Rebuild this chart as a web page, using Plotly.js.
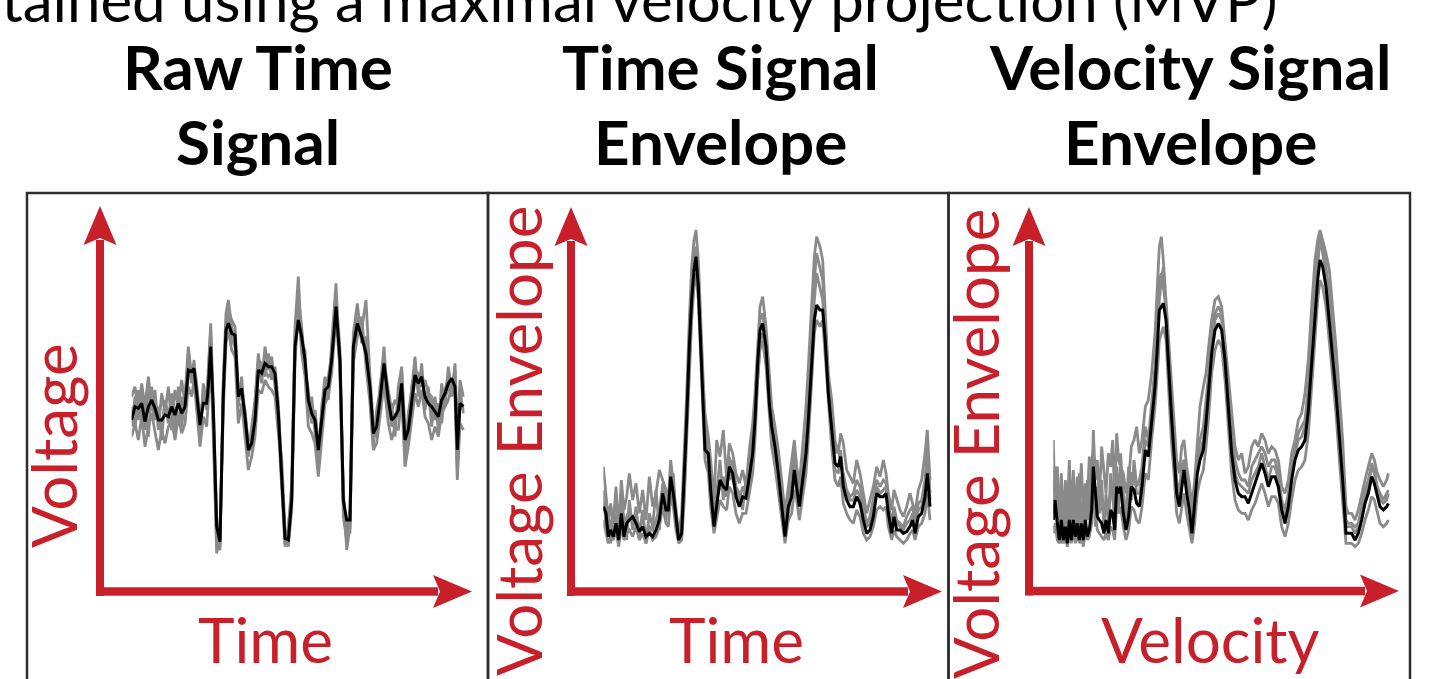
<!DOCTYPE html>
<html>
<head>
<meta charset="utf-8">
<script src="https://cdn.plot.ly/plotly-3.0.1.min.js"></script>
<style>html,body{margin:0;padding:0;background:#fff;overflow:hidden}#chart{width:1430px;height:679px}</style>
</head>
<body>
<div id="chart"></div>
<script>
// ---------------- DATA ----------------
const panelTitles = [["Raw Time", "Signal"], ["Time Signal", "Envelope"], ["Velocity Signal", "Envelope"]];
const xLabels = ["Time", "Time", "Velocity"];
const yLabels = ["Voltage", "Voltage Envelope", "Voltage Envelope"];
const caption = "obtained using a maximal velocity projection (MVP)";

// Panel 1: raw time signal
const t1 = [0,1,2,3,4,5,6,7,8,9,10,11,12,13,14,15,16,17,18,18.7,19.5,20.5,21.5,22.5,23,23.7,24.5,25.5,26.5,27.5,28.3,29,30,31,32,33,34,35,36,37,38,39,40,41,42,43,44,45,46,47,48,49,50,51,52,53,54,55,56,57,58,59,60,61.3,62.5,63.5,64.5,65.5,66.5,67.7,69,70.3,71.5,72.5,73.5,74.5,75.7,77,78,79,80,81,82,83,84,85,86,87,88,89,90,91,92,93,94,95,96,97,97.7,98.5,99.5];
const raw_mean = [-1,3,2.5,4,-1.5,3,5,2.5,-1,-1,0.5,0,3,0.5,4,1,3,14,13.5,14.5,7,-2.5,4,4,9,21,2,-33,-37.5,7,26,28,25,24.5,6,8.5,0,-10,-8,-1,14,13,16,15,15,13,1,-17,-36.5,-37,-25,21,29,24,17,5,1,-1,-10,-1,8,9,17,33,17,-25,-31,-31,21,28,24,19,9,-5,-3,5,16,5,-1,0,2,10,-7,-4,5,12.5,10,12,6,4,3,1.5,0,5,7,10,11.5,9,-10,4,3];
const raw_trial1 = [6,9,1,10,3,12,2,8,-4,7,1,9,-2,8,3,11,4,19,10,17,3,-6,10,2,15,26,-3,-38,-40,12,31,35,27,22,3,12,-4,-12,-3,5,19,10,21,14,18,9,-3,-22,-39,-34,-20,27,42,22,20,1,6,-5,-14,3,12,5,22,40,12,-30,-37,-28,25,34,22,24,5,-9,2,8,21,1,4,-6,9,15,-12,1,8,18,6,16,2,9,-3,6,-4,10,3,15,8,14,-18,8,1];
const raw_trial2 = [-6,-2,-7,0,-9,-3,1,-5,-10,-4,-8,-3,-1,-7,0,-5,-2,9,6,11,2,-9,0,-3,5,17,-6,-41,-36,2,22,26,20,18,-2,4,-6,-16,-12,-6,8,7,11,9,8,6,-5,-12,-34,-39,-28,16,34,19,12,-3,-5,-8,-18,-6,4,6,13,30,14,-22,-40,-33,16,24,30,15,4,-10,-8,0,10,-2,-7,-3,-4,6,-15,-9,-1,7,3,8,0,-2,-7,-3,-6,1,3,5,9,6,-19,-2,-4];
const raw_trial3 = [3,-4,8,-2,4,-6,9,-1,3,-7,5,-2,7,-5,9,-3,6,21,12,16,10,-1,6,8,12,28,4,-30,-39,10,28,32,29,27,8,6,2,-8,-6,3,17,16,12,19,11,15,4,-15,-38,-33,-23,24,36,27,15,8,-2,2,-8,-4,10,12,19,37,20,-24,-34,-35,18,30,26,35,12,-2,-6,9,17,8,2,5,3,14,-3,-8,9,14,13,9,11,7,6,-1,4,-2,8,12,6,16,-6,11,6];
const raw_trial4 = [-3,6,-1,7,-4,8,3,0,2,-3,4,2,-4,3,-2,6,1,12,15,9,5,-4,8,3,7,22,-1,-35,-34,5,25,30,23,21,4,10,1,-9,-10,0,12,15,14,12,13,11,2,-19,-35,-38,-26,19,30,25,14,3,-1,1,-12,0,6,8,15,35,16,-26,-33,-30,22,26,25,20,8,-7,-1,3,14,4,-3,1,0,9,-9,-5,3,11,9,13,4,5,1,2,-1,3,6,8,10,11,-15,5,2];

// Panel 2: time signal envelope
const t2 = [0,0.8,1.5,2.2,3,3.8,4.6,5.4,6.2,7,7.8,8.8,9.8,10.8,11.8,12.8,13.8,14.8,15.8,16.8,17.8,18.8,19.5,20.2,21,21.8,22.6,23.5,24.3,25,25.8,26.5,27.2,27.8,28.5,29.3,30,30.5,31.5,32.2,33.2,34,35,36,37,37.8,38.8,39.8,40.8,41.8,42.8,43.8,44.8,45.5,46.3,47,47.8,48.8,49.8,50.5,51.5,52.5,53.5,54.5,55.5,56.5,57.3,58,58.8,59.8,60.8,61.5,62.5,63.3,64,65,65.8,66.5,67.5,68.5,69.5,70.5,71.2,72,73,74,75,76,77,78,79,80,81,82,83,84,84.8,85.5,86.5,87.2,88,89,90,91,92,92.8,93.5,94.5,95.5,96.5,97.2,98];
const env_mean = [10,8,1,3,1,5,0,8,1,5,6,7,5,2.5,4,1,2,1,3,6,14,9,9,19,14,6,0,2,18,36,58,72,81,85,76,56,40,27,26,15,4,10,18,16,15,22,20,13,10,13,12.5,19,26,36,53,63,65,58,41,34,28,20,11,1,10,13,21,16,10,18,26,36,54,66,70.5,69,69,61,44,34,23,22,25,16,12,10,10,13,11,6,2,3,7,14,13,13,14,8,2,7,3,3,2,2.5,4,6,2,7,8,13,20,10];
const env_trial1 = [22,14,6,11,4,16,3,18,9,13,20,12,17,8,15,6,19,10,14,21,18,15,12,24,17,9,2,8,26,44,66,82,90,93,84,62,47,38,31,24,12,30,25,33,18,29,26,20,17,21,16,27,35,44,60,70,73,64,50,40,34,27,18,8,16,24,30,22,17,28,40,52,72,85,91,88,84,70,50,42,30,26,32,29,21,19,17,24,20,14,8,12,16,22,19,24,20,14,9,15,12,9,7,10,14,11,8,15,18,26,33,18];
const env_trial2 = [6,2,-1,1,0,3,-2,4,0,2,3,1,4,0,2,-1,3,0,1,4,10,5,4,13,10,3,-1,0,12,30,52,66,76,80,72,52,36,24,20,10,2,6,12,10,9,16,14,8,5,8,8,14,20,30,48,57,60,52,36,28,22,14,6,-1,6,8,15,12,6,13,20,30,50,62,66,64,66,56,40,28,18,16,19,11,8,6,5,9,7,2,0,1,4,9,10,9,10,4,0,3,1,0,-1,0,2,3,0,4,5,8,14,6];
const env_trial3 = [15,4,10,-1,8,12,2,14,6,0,12,3,10,1,9,-1,8,4,15,3,17,6,14,12,20,4,1,5,15,38,62,78,88,82,80,60,44,34,28,20,8,14,24,12,20,18,24,16,14,9,18,22,30,40,56,66,68,60,44,37,31,24,14,4,13,18,26,19,14,22,30,40,62,78,86,82,78,66,48,36,26,28,22,20,15,13,14,18,16,10,5,7,12,18,16,18,17,11,5,10,6,5,4,7,9,10,5,11,12,18,28,14];
const env_trial4 = [9,11,3,6,2,8,1,10,3,7,9,5,7,4,6,2,4,3,6,9,16,11,10,16,15,8,0,4,16,34,56,70,84,88,74,54,42,30,24,17,6,12,16,19,13,25,18,15,12,16,14,17,24,34,50,60,62,56,40,32,26,18,9,3,8,15,19,14,12,16,24,34,58,72,80,76,72,62,46,32,21,20,27,18,14,12,12,15,13,8,4,5,9,16,14,15,16,10,4,8,5,4,3,5,6,8,4,9,10,16,24,12];

// Panel 3: velocity signal envelope
const v3 = [0,0.5,1.2,1.8,2.4,3,3.6,4.2,4.8,5.4,6,6.6,7.2,7.8,8.4,9,9.6,10.2,10.8,11.5,12,12.6,13.2,13.8,14.5,15.2,15.8,16.5,17.2,17.8,18.4,19,19.6,20.2,21,21.8,22.6,23.4,24.2,25,25.8,26.6,27.6,28.5,29.5,30.5,31.2,31.8,32.4,33,33.8,34.6,35.4,36.2,37,37.8,38.5,39.2,40,40.8,41.6,42.4,43.2,44,45,45.8,46.6,47.5,48.5,49.5,50.5,51.5,52.5,53.5,54.5,55.5,56.5,57.5,58.5,59.5,60.5,61.5,62.5,63.5,64.5,65.5,66.5,67.5,68.5,69.5,70.5,71.5,72.5,73.5,74.5,75.5,76.5,77.5,78.5,79.3,80,80.8,81.8,82.8,83.8,84.8,85.8,86.8,87.8,88.5,89.5,90.5,91.5,92.5,93.5,94.5,95.5,96.3,97.2,98,99,100,100.5];
const vel_mean = [6,12,5,0,6,0,4,-1,6,0,6,1,5,0,5,0,6,1,3,9,22,14,7,6,5,2,6,2,9,8,3,16,14,16,8,3,7,16,15,11,10,16,27,25,36,46,58,69,70,71,66,51,38,26,14,10,16,21,14,9,2,10,20,24,27,35,44,56,63,65,63,54,40,26,18,14,13,13,11,14,17,20,23,20,16,19,19,16,9,5,10,18,24,27,28,30,39,53,66,78,84,82,76,66,54,44,31,18,2,2,2,0,2,6,11,14,19,17,13,10,9,10,11];
const vel_trial1 = [30,8,22,5,20,4,18,9,24,6,21,7,19,10,23,8,17,12,25,11,33,18,24,12,28,20,14,26,22,30,12,32,24,22,20,14,18,28,30,34,26,30,40,42,50,62,78,88,91,84,72,60,46,34,24,20,28,30,22,17,10,18,28,40,46,50,58,66,72,73,70,60,50,38,28,24,26,20,22,28,30,28,32,30,26,28,27,24,16,14,18,26,30,36,38,44,54,70,84,90,93,90,86,81,70,58,44,30,10,8,8,6,9,14,18,22,26,24,20,18,16,18,20];
const vel_trial2 = [2,5,0,-1,3,-1,1,-2,2,-1,3,-1,2,-1,2,-2,3,0,1,5,14,8,3,2,1,0,2,0,4,3,0,10,8,10,4,0,3,10,9,6,5,10,20,18,30,40,50,60,62,64,60,44,30,20,8,5,10,14,8,4,-1,5,14,18,21,28,37,50,57,60,58,48,34,20,12,9,8,8,6,9,11,14,17,14,10,13,13,11,4,1,5,12,18,21,22,24,32,46,60,72,78,76,70,60,48,38,24,12,-1,-1,-1,-2,-1,2,6,9,13,12,8,5,4,5,6];
const vel_trial3 = [14,22,2,12,-1,14,3,16,1,12,0,15,4,20,-1,13,2,18,6,24,26,4,16,9,18,3,14,5,20,12,7,22,9,26,12,8,22,12,24,16,18,22,34,30,42,52,64,78,80,76,70,56,42,30,18,14,22,24,18,12,6,14,24,30,34,42,50,62,68,70,68,58,46,32,24,20,18,18,16,22,24,26,28,26,22,24,24,20,12,9,14,22,28,32,34,36,46,62,76,86,90,88,82,74,62,50,38,24,6,5,5,4,5,10,15,18,23,21,16,14,12,14,15];
const vel_trial4 = [8,18,10,4,14,3,10,2,12,4,10,4,12,3,9,4,11,6,8,14,28,12,10,8,12,6,10,7,14,15,6,20,18,20,14,6,12,20,20,14,14,20,30,28,38,48,60,72,78,82,68,52,40,28,16,12,18,24,16,11,4,12,22,26,30,38,47,58,66,68,66,56,44,28,20,17,16,15,14,18,20,22,26,22,18,22,22,18,10,7,12,20,26,30,31,34,44,58,72,84,91,86,80,70,58,48,35,22,4,4,4,2,4,8,13,16,22,20,15,12,11,12,14];

// ---------------- LAYOUT HELPERS ----------------
const W = 1430, H = 679;
const fx = p => p / W;
const fy = p => 1 - p / H;
const RED = '#c8202b';
const GRAY = '#8a8a8a';
const FONT = 'Lato, "Open Sans", sans-serif';

const panels = [
  {t: t1, mean: raw_mean, trials: [raw_trial1, raw_trial2, raw_trial3, raw_trial4],
   xd: [131.67, 465], yd: [566.67, 266.67], xr: [0, 100], yr: [-45, 45],
   box: [27, 488], vx: 100, tipY: 206, hy: 591.5, tipX: 472,
   titleX: 258, xLabX: 265, yLabX: 53, yLabY: 446},
  {t: t2, mean: env_mean, trials: [env_trial1, env_trial2, env_trial3, env_trial4],
   xd: [603.33, 936.67], yd: [556.67, 206.67], xr: [0, 100], yr: [-5, 100],
   box: [488, 948.5], vx: 571, tipY: 207, hy: 591.5, tipX: 942,
   titleX: 720, xLabX: 737, yLabX: 518, yLabY: 441},
  {t: v3, mean: vel_mean, trials: [vel_trial1, vel_trial2, vel_trial3, vel_trial4],
   xd: [1053.33, 1390], yd: [556.67, 206.67], xr: [0, 101], yr: [-5, 100],
   box: [948.5, 1410], vx: 1029, tipY: 207, hy: 591, tipX: 1399,
   titleX: 1190, xLabX: 1210, yLabX: 975, yLabY: 443}
];

const traces = [];
const layout = {
  width: W, height: H,
  margin: {l: 0, r: 0, t: 0, b: 0},
  paper_bgcolor: '#ffffff', plot_bgcolor: 'rgba(0,0,0,0)',
  showlegend: false,
  shapes: [], annotations: []
};

function pt(x, y) { return fx(x).toFixed(5) + ',' + fy(y).toFixed(5); }

panels.forEach((p, i) => {
  const n = i === 0 ? '' : String(i + 1);
  const xa = 'x' + n, ya = 'y' + n;
  p.trials.forEach(tr => traces.push({
    type: 'scatter', mode: 'lines', x: p.t, y: tr, xaxis: xa, yaxis: ya,
    line: {color: GRAY, width: 2.8}, hoverinfo: 'skip'
  }));
  traces.push({
    type: 'scatter', mode: 'lines', x: p.t, y: p.mean, xaxis: xa, yaxis: ya,
    line: {color: '#000000', width: 3}, hoverinfo: 'skip'
  });
  const axBase = {visible: false, showgrid: false, zeroline: false, fixedrange: true};
  layout['xaxis' + n] = Object.assign({}, axBase, {domain: [fx(p.xd[0]), fx(p.xd[1])], range: p.xr, anchor: ya});
  layout['yaxis' + n] = Object.assign({}, axBase, {domain: [fy(p.yd[0]), fy(p.yd[1])], range: p.yr, anchor: xa});

  // panel frame
  layout.shapes.push({type: 'rect', xref: 'paper', yref: 'paper',
    x0: fx(p.box[0]), x1: fx(p.box[1]), y0: fy(193), y1: fy(720),
    line: {color: '#2e2e2e', width: 2.5}, fillcolor: 'rgba(0,0,0,0)', layer: 'below'});
  // vertical arrow shaft + head
  layout.shapes.push({type: 'line', xref: 'paper', yref: 'paper',
    x0: fx(p.vx), x1: fx(p.vx), y0: fy(p.hy + 4.5), y1: fy(p.tipY + 34),
    line: {color: RED, width: 8}});
  layout.shapes.push({type: 'path', xref: 'paper', yref: 'paper',
    path: 'M' + pt(p.vx, p.tipY) + 'L' + pt(p.vx + 16.5, p.tipY + 39) + 'L' + pt(p.vx, p.tipY + 32) + 'L' + pt(p.vx - 16.5, p.tipY + 39) + 'Z',
    fillcolor: RED, line: {width: 0}});
  // horizontal arrow shaft + head
  layout.shapes.push({type: 'line', xref: 'paper', yref: 'paper',
    x0: fx(p.vx - 4), x1: fx(p.tipX - 34), y0: fy(p.hy), y1: fy(p.hy),
    line: {color: RED, width: 8.5}});
  layout.shapes.push({type: 'path', xref: 'paper', yref: 'paper',
    path: 'M' + pt(p.tipX, p.hy) + 'L' + pt(p.tipX - 39, p.hy - 16.5) + 'L' + pt(p.tipX - 32, p.hy) + 'L' + pt(p.tipX - 39, p.hy + 16.5) + 'Z',
    fillcolor: RED, line: {width: 0}});

  // titles (two lines)
  [66, 141].forEach((cy, k) => layout.annotations.push({
    xref: 'paper', yref: 'paper', x: fx(p.titleX), y: fy(cy), xanchor: 'center', yanchor: 'middle',
    text: '<b>' + panelTitles[i][k] + '</b>', showarrow: false,
    font: {family: FONT, size: 62, color: '#000000', weight: 700}
  }));
  // axis labels
  layout.annotations.push({
    xref: 'paper', yref: 'paper', x: fx(p.xLabX), y: fy(639), xanchor: 'center', yanchor: 'middle',
    text: xLabels[i], showarrow: false, font: {family: FONT, size: 62, color: RED}
  });
  layout.annotations.push({
    xref: 'paper', yref: 'paper', x: fx(p.yLabX), y: fy(p.yLabY), xanchor: 'center', yanchor: 'middle',
    text: yLabels[i], textangle: -90, showarrow: false, font: {family: FONT, size: 62, color: RED}
  });
});

layout.annotations.push({
  xref: 'paper', yref: 'paper', x: fx(1279), y: fy(-1.5), xanchor: 'right', yanchor: 'middle',
  text: caption, showarrow: false, font: {family: FONT, size: 60, color: '#000000'}
});

Plotly.newPlot('chart', traces, layout, {staticPlot: true, displayModeBar: false});
</script>
</body>
</html>
